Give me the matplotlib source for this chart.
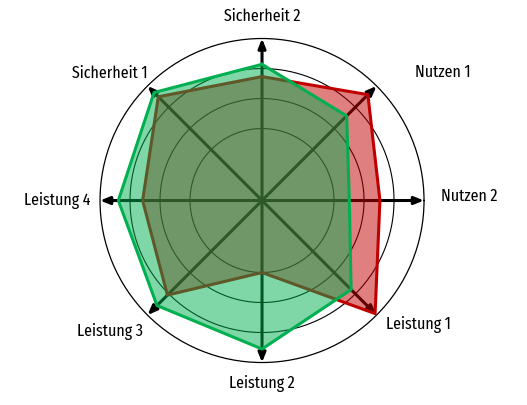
import numpy as np
import matplotlib
matplotlib.use('Agg')
import matplotlib.pyplot as plt

# axes, counter-clockwise starting at the top
labels = ['Sicherheit 2', 'Sicherheit 1', 'Leistung 4', 'Leistung 3',
          'Leistung 2', 'Leistung 1', 'Nutzen 2', 'Nutzen 1']
red_vals = [3.73, 4.49, 3.58, 4.06, 2.0, 4.93, 3.53, 4.59]
green_vals = [4.14, 4.69, 4.39, 4.55, 4.55, 3.8, 2.51, 3.59]
grid_vals = [2, 3, 4]
r_min, r_max = -0.4, 5

# text centre offsets from arrow tips, in pixels
label_offsets = [(0, 22), (-38, 13), (-43, 0), (-37, -16),
                 (0, -21), (42, -9.5), (45.5, 4.5), (66, 14)]

plt.rcParams['font.family'] = ['Fira Sans Extra Condensed', 'Fira Sans Condensed', 'DejaVu Sans']

fig = plt.figure(figsize=(5.27, 4.05), dpi=100)
ax = fig.add_axes([0.1898, 0.1049, 0.6148, 0.8], projection='polar')

n = len(labels)
theta = np.pi / 2 + np.arange(n) * 2 * np.pi / n
tc = np.append(theta, theta[0])

ax.set_ylim(r_min, r_max)
ax.set_xticks([])
ax.set_yticks([])
ax.grid(False)
ax.spines['polar'].set_linewidth(0.9)

# grid circles
circ = np.linspace(0, 2 * np.pi, 300)
for g in grid_vals:
    ax.plot(circ, np.full_like(circ, g), color='black', lw=0.8, zorder=1)

# spokes with arrows
for t in theta:
    ax.annotate('', xy=(t, r_max), xytext=(t, r_min),
                arrowprops=dict(arrowstyle='-|>,head_length=0.55,head_width=0.22',
                                color='black', lw=2.2, shrinkA=0, shrinkB=0),
                zorder=2)

rc = np.append(red_vals, red_vals[0])
gc = np.append(green_vals, green_vals[0])
ax.fill(tc, rc, color='#C00000', alpha=0.5, lw=0, zorder=3)
ax.plot(tc, rc, color='#C00000', lw=2.2, zorder=3)
ax.fill(tc, gc, color='#00B050', alpha=0.5, lw=0, zorder=4)
ax.plot(tc, gc, color='#00B050', lw=2.2, zorder=4)

for t, lab, off in zip(theta, labels, label_offsets):
    ax.annotate(lab, xy=(t, r_max), xytext=off, textcoords='offset pixels',
                ha='center', va='center', fontsize=12.5,
                annotation_clip=False)

fig.savefig('out.png', dpi=100)
